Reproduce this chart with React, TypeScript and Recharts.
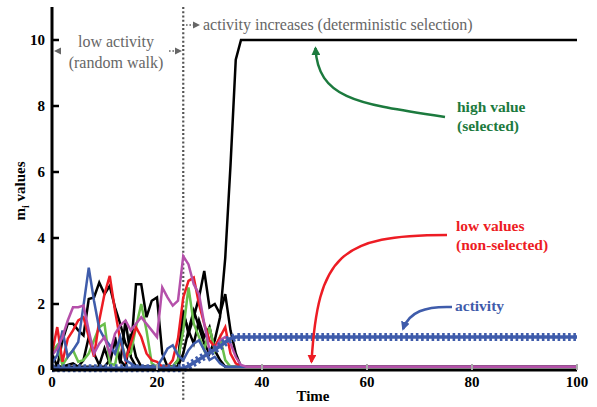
import { LineChart, Line, XAxis, YAxis, ReferenceLine } from 'recharts'

// time steps of the simulation (the tail is flat, so only the end point is kept)
const times = [
  0, 1, 2, 3, 4, 5, 6, 7, 8, 9,
  10, 11, 12, 13, 14, 15, 16, 17, 18, 19,
  20, 21, 22, 23, 24, 25, 26, 27, 28, 29,
  30, 31, 32, 33, 34, 35, 36, 37, 38, 39,
  40, 100,
]

const selected = [
  0.1, 0.1, 0.1, 0.15, 0.2, 0.1, 0.3, 1.0, 0.5, 0.15,
  0.65, 0.2, 0.9, 0.3, 0.1, 1.1, 0.4, 0.1, 0.1, 0.1,
  0.1, 0.1, 0.1, 0.1, 0.1, 0.5, 1.2, 1.8, 1.3, 0.8,
  0.5, 0.9, 1.6, 3.4, 6.2, 9.4, 10, 10, 10, 10,
  10, 10,
]

const blackA = [
  0.5, 0.1, 0.9, 1.4, 1.4, 1.2, 1.05, 2.15, 2.2, 2.65,
  2.3, 2.55, 1.9, 1.4, 0.8, 0.5, 2.6, 2.6, 1.6, 2.1,
  2.2, 0.5, 0.1, 0.1, 0.1, 1.7, 1.2, 0.8, 1.5, 1.0,
  1.3, 0.6, 0.3, 0.1, 0.1, 0.1, 0.1, 0.1, 0.1, 0.1,
  0.1, 0.1,
]

const blackB = [
  0.1, 0.1, 0.1, 0.1, 0.1, 0.1, 0.1, 0.1, 0.1, 0.1,
  0.1, 0.3, 1.0, 0.2, 1.5, 0.4, 0.1, 0.1, 0.1, 0.1,
  0.1, 0.1, 0.1, 0.1, 0.3, 1.8, 1.1, 1.6, 2.2, 3.0,
  1.9, 2.0, 1.7, 2.3, 1.2, 0.5, 0.1, 0.1, 0.1, 0.1,
  0.1, 0.1,
]

const red = [
  0.5, 1.3, 0.25, 0.95, 1.2, 1.5, 1.6, 1.0, 0.4, 1.5,
  2.3, 2.85, 1.8, 0.9, 0.3, 0.8, 1.3, 1.0, 0.5, 0.3,
  0.25, 0.1, 0.1, 0.3, 0.95, 2.2, 2.7, 2.8, 2.0, 1.4,
  0.9, 0.7, 1.0, 1.3, 0.5, 0.2, 0.1, 0.1, 0.1, 0.1,
  0.1, 0.1,
]

const green = [
  0.55, 0.75, 0.15, 0.4, 0.6, 0.25, 0.3, 0.5, 0.9, 1.3,
  1.4, 0.2, 0.15, 0.95, 0.4, 0.5, 1.3, 2.0, 1.2, 0.2,
  0.1, 0.1, 0.1, 0.1, 0.3, 1.2, 2.5, 1.4, 1.0, 0.6,
  1.3, 0.6, 1.0, 0.3, 0.1, 0.1, 0.1, 0.1, 0.1, 0.1,
  0.1, 0.1,
]

const blue = [
  0.2, 0.45, 1.2, 0.4, 0.6, 0.85, 1.95, 3.1, 2.1, 1.25,
  0.95, 0.75, 0.5, 1.0, 0.3, 0.2, 0.1, 0.1, 0.1, 0.1,
  0.1, 0.35, 0.65, 0.75, 0.45, 0.3, 0.6, 0.8, 0.9, 0.6,
  0.3, 0.4, 0.2, 0.1, 0.1, 0.1, 0.1, 0.1, 0.1, 0.1,
  0.1, 0.1,
]

const magenta = [
  0.45, 0.65, 1.0, 1.5, 1.9, 1.9, 1.95, 1.2, 0.5, 0.8,
  1.0, 0.5, 1.1, 1.35, 1.5, 1.2, 1.4, 1.6, 1.4, 1.2,
  1.0, 2.5, 2.2, 1.95, 2.1, 3.45, 3.2, 2.6, 2.3, 1.4,
  0.6, 0.6, 0.9, 1.0, 0.8, 0.4, 0.15, 0.1, 0.1, 0.1,
  0.1, 0.1,
]

const activity = [
  0.05, 0.05, 0.05, 0.05, 0.05, 0.05, 0.05, 0.05, 0.05, 0.05,
  0.05, 0.05, 0.05, 0.05, 0.05, 0.05, 0.05, 0.05, 0.05, 0.05,
  0.05, 0.05, 0.05, 0.05, 0.05, 0.05, 0.12, 0.22, 0.32, 0.42,
  0.52, 0.62, 0.72, 0.84, 0.95, 1.0, 1.0, 1.0, 1.0, 1.0,
  1.0, 1.0,
]

const xTicks = [0, 20, 40, 60, 80, 100]
const yTicks = [0, 2, 4, 6, 8, 10]

const data = times.map((t, i) => ({
  t,
  selected: selected[i],
  blackA: blackA[i],
  blackB: blackB[i],
  red: red[i],
  green: green[i],
  blue: blue[i],
  magenta: magenta[i],
  activity: activity[i],
}))

const FONT = 'Liberation Serif'
const BLUE = '#3f5cab'
const RED = '#ed1c24'
const GREEN = '#1c7a3e'
const GREY = '#666'

const tickStyle = { fontSize: 15, fontWeight: 700, fill: '#000', style: { fontFamily: FONT } }
const plain = { fontFamily: FONT, fontSize: 16 }
const bold = { fontFamily: FONT, fontSize: 15.5, fontWeight: 700 }
const axisTitle = { fontFamily: FONT, fontSize: 15, fontWeight: 700 }

function Annotations() {
  return (
    <svg
      width={597}
      height={407}
      style={{ position: 'absolute', left: 0, top: 0, pointerEvents: 'none' }}
    >
      <defs>
        <marker id="headGreen" viewBox="0 0 10 10" refX="8" refY="5" markerWidth="3.6" markerHeight="3.6" orient="auto">
          <path d="M0,0 L10,5 L0,10 z" fill={GREEN} />
        </marker>
        <marker id="headRed" viewBox="0 0 10 10" refX="8" refY="5" markerWidth="3.6" markerHeight="3.6" orient="auto">
          <path d="M0,0 L10,5 L0,10 z" fill={RED} />
        </marker>
        <marker id="headBlue" viewBox="0 0 10 10" refX="8" refY="5" markerWidth="3.6" markerHeight="3.6" orient="auto">
          <path d="M0,0 L10,5 L0,10 z" fill={BLUE} />
        </marker>
      </defs>

      {/* phase labels */}
      <text x={116} y={47} style={plain} fill={GREY} textAnchor="middle">low activity</text>
      <text x={116} y={68} style={plain} fill={GREY} textAnchor="middle">(random walk)</text>
      <polygon points="54,51 61,47.5 61,54.5" fill={GREY} />
      <line x1={169} y1={51} x2={175} y2={51} stroke={GREY} strokeWidth={1.6} strokeDasharray="1.6 1.8" />
      <polygon points="182,51 175,47.5 175,54.5" fill={GREY} />

      <line x1={186} y1={25} x2={193} y2={25} stroke={GREY} strokeWidth={1.6} strokeDasharray="1.6 1.8" />
      <polygon points="200,25 193,21.5 193,28.5" fill={GREY} />
      <text x={203} y={30} style={plain} fill={GREY}>
        activity increases (deterministic selection)
      </text>

      {/* high value */}
      <path d="M445,117 C360,104 318,100 315.5,48" fill="none" stroke={GREEN} strokeWidth={2.5} markerEnd="url(#headGreen)" />
      <text x={457} y={112} style={bold} fill={GREEN}>high value</text>
      <text x={457} y={131} style={bold} fill={GREEN}>(selected)</text>

      {/* low values */}
      <path d="M447,235 C340,235 318,255 311.5,362" fill="none" stroke={RED} strokeWidth={2.5} markerEnd="url(#headRed)" />
      <text x={456} y={231} style={bold} fill={RED}>low values</text>
      <text x={456} y={250} style={bold} fill={RED}>(non-selected)</text>

      {/* activity */}
      <path d="M452,307 C425,306 409,312 403,329" fill="none" stroke={BLUE} strokeWidth={2.5} markerEnd="url(#headBlue)" />
      <text x={455} y={311} style={bold} fill={BLUE}>activity</text>

      {/* axis titles */}
      <text x={313} y={401} style={axisTitle} textAnchor="middle">Time</text>
      <text x={25} y={191} transform="rotate(-90 25 191)" style={axisTitle} textAnchor="middle">
        m<tspan style={{ fontFamily: FONT, fontSize: 10 }} dy={4}>i</tspan>
        <tspan dy={-4}> values</tspan>
      </text>
    </svg>
  )
}

export default function App() {
  const lineProps = { type: 'linear' as const, dot: false, isAnimationActive: false, strokeWidth: 2.5 }

  return (
    <div style={{ position: 'absolute', left: 0, top: 0, width: 597, height: 407, background: '#fff', fontFamily: FONT }}>
      <LineChart width={597} height={407} data={data} margin={{ top: 7, right: 20, bottom: 0, left: 0 }}>
        <XAxis
          dataKey="t"
          type="number"
          domain={[0, 100]}
          ticks={xTicks}
          height={37}
          tick={tickStyle}
          tickSize={-6}
          tickMargin={12}
          axisLine={{ stroke: '#000', strokeWidth: 3 }}
          tickLine={{ stroke: '#aaa', strokeWidth: 2 }}
        />
        <XAxis
          xAxisId="top"
          orientation="top"
          type="number"
          domain={[0, 100]}
          ticks={xTicks}
          height={0}
          tick={false}
          tickSize={-6}
          axisLine={{ stroke: '#000', strokeWidth: 3 }}
          tickLine={{ stroke: '#000', strokeWidth: 2.5 }}
        />
        <YAxis
          type="number"
          domain={[0, 11]}
          ticks={yTicks}
          width={52}
          tick={tickStyle}
          tickSize={-7}
          tickMargin={14}
          axisLine={{ stroke: '#000', strokeWidth: 3 }}
          tickLine={{ stroke: '#000', strokeWidth: 2.5 }}
        />
        <YAxis
          yAxisId="right"
          orientation="right"
          type="number"
          domain={[0, 11]}
          ticks={yTicks}
          width={0}
          tick={false}
          tickSize={-6}
          axisLine={{ stroke: '#000', strokeWidth: 3 }}
          tickLine={{ stroke: '#000', strokeWidth: 2.5 }}
        />

        <ReferenceLine
          segment={[{ x: 25, y: -0.9 }, { x: 25, y: 11 }]}
          ifOverflow="visible"
          stroke="#555"
          strokeWidth={2.2}
          strokeDasharray="2 2.2"
        />

        <Line {...lineProps} dataKey="blackB" stroke="#000" />
        <Line {...lineProps} dataKey="blackA" stroke="#000" />
        <Line {...lineProps} dataKey="selected" stroke="#000" />
        <Line {...lineProps} dataKey="green" stroke="#6abf4b" />
        <Line {...lineProps} dataKey="red" stroke={RED} />
        <Line {...lineProps} dataKey="blue" stroke={BLUE} />
        <Line {...lineProps} dataKey="magenta" stroke="#b550aa" />
        <Line {...lineProps} dataKey="activity" stroke={BLUE} strokeWidth={3.5} />
        <Line {...lineProps} dataKey="activity" stroke={BLUE} strokeWidth={8} strokeDasharray="2.6 2.65" />
      </LineChart>
      <Annotations />
    </div>
  )
}
